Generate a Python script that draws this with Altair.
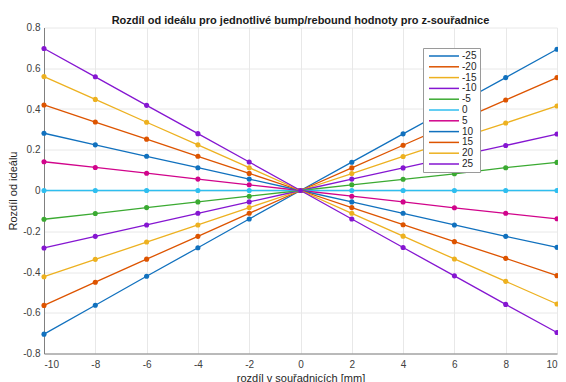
import altair as alt
import pandas as pd

x_vals = [-10, -8, -6, -4, -2, 0, 2, 4, 6, 8, 10]
series_names = ["-25", "-20", "-15", "-10", "-5", "0", "5", "10", "15", "20", "25"]

s_m25 = [-0.705, -0.563, -0.421, -0.281, -0.140, 0, 0.139, 0.278, 0.416, 0.554, 0.693]
s_m20 = [-0.564, -0.450, -0.337, -0.225, -0.112, 0, 0.111, 0.222, 0.333, 0.444, 0.554]
s_m15 = [-0.423, -0.338, -0.253, -0.169, -0.084, 0, 0.083, 0.167, 0.250, 0.331, 0.415]
s_m10 = [-0.282, -0.225, -0.169, -0.112, -0.056, 0, 0.056, 0.111, 0.166, 0.221, 0.277]
s_m5 = [-0.141, -0.113, -0.084, -0.056, -0.028, 0, 0.028, 0.055, 0.082, 0.112, 0.138]
s_0 = [0, 0, 0, 0, 0, 0, 0, 0, 0, 0, 0]
s_p5 = [0.141, 0.113, 0.085, 0.056, 0.028, 0, -0.028, -0.056, -0.085, -0.112, -0.139]
s_p10 = [0.281, 0.224, 0.168, 0.112, 0.056, 0, -0.056, -0.112, -0.169, -0.225, -0.279]
s_p15 = [0.420, 0.336, 0.252, 0.168, 0.084, 0, -0.084, -0.168, -0.251, -0.333, -0.418]
s_p20 = [0.559, 0.447, 0.335, 0.224, 0.112, 0, -0.112, -0.224, -0.336, -0.446, -0.557]
s_p25 = [0.697, 0.558, 0.418, 0.279, 0.140, 0, -0.140, -0.280, -0.419, -0.559, -0.697]

all_series = [s_m25, s_m20, s_m15, s_m10, s_m5, s_0, s_p5, s_p10, s_p15, s_p20, s_p25]

colors = ["#1171BE", "#DD5400", "#EDB120", "#8516D1", "#3BAA32", "#2FBEEF",
          "#D1048B", "#1171BE", "#DD5400", "#EDB120", "#8516D1"]

rows = []
for i, (name, vals) in enumerate(zip(series_names, all_series)):
    for xv, yv in zip(x_vals, vals):
        rows.append({"x": xv, "y": yv, "serie": name, "ord": i})
df = pd.DataFrame(rows)

FONT = "Liberation Sans"

chart = alt.Chart(df).mark_line(
    strokeWidth=1.3,
    point=alt.OverlayMarkDef(filled=True, size=26),
).encode(
    x=alt.X("x:Q",
            scale=alt.Scale(domain=[-10, 10], nice=False, zero=False),
            axis=alt.Axis(values=x_vals, title="rozdíl v souřadnicích [mm]",
                          labelExpr="toString(datum.value)",
                          titlePadding=3)),
    y=alt.Y("y:Q",
            scale=alt.Scale(domain=[-0.8, 0.8], nice=False),
            axis=alt.Axis(values=[-0.8, -0.6, -0.4, -0.2, 0, 0.2, 0.4, 0.6, 0.8],
                          title="Rozdíl od ideálu",
                          labelExpr="toString(round(datum.value*10)/10)",
                          labelPadding=4,
                          titlePadding=4)),
    color=alt.Color("serie:N",
                    scale=alt.Scale(domain=series_names, range=colors),
                    sort=series_names,
                    legend=alt.Legend(title=None)),
    order=alt.Order("ord:Q"),
    detail="serie:N",
).properties(
    width=513,
    height=326,
    title=alt.TitleParams(
        "Rozdíl od ideálu pro jednotlivé bump/rebound hodnoty pro z-souřadnice",
        fontSize=11, fontWeight="bold", font=FONT, color="#1a1a1a", offset=-3,
    ),
    autosize=alt.AutoSizeParams(type="none"),
    padding={"left": 36, "top": 19.5, "right": 1, "bottom": 30},
).configure_view(
    stroke=None
).configure_axis(
    grid=True,
    gridColor="#e8e8e8",
    gridWidth=1,
    domainColor="#808080",
    domainWidth=1,
    ticks=False,
    labelFont=FONT,
    labelFontSize=10,
    labelColor="#404040",
    labelPadding=6,
    titleFont=FONT,
    titleFontSize=11,
    titleFontWeight="normal",
    titleColor="#262626",
).configure_legend(
    orient="none",
    legendX=379,
    legendY=20.5,
    symbolType="M-0.5,0H7",
    symbolSize=64,
    symbolStrokeWidth=1.5,
    symbolFillColor="transparent",
    labelFont=FONT,
    labelFontSize=10,
    labelColor="#262626",
    labelOffset=26,
    rowPadding=0.8,
    padding=3,
    strokeColor="#9a9a9a",
    fillColor="white",
)

chart.save("out.html", embed_options={"renderer": "svg", "actions": False})
